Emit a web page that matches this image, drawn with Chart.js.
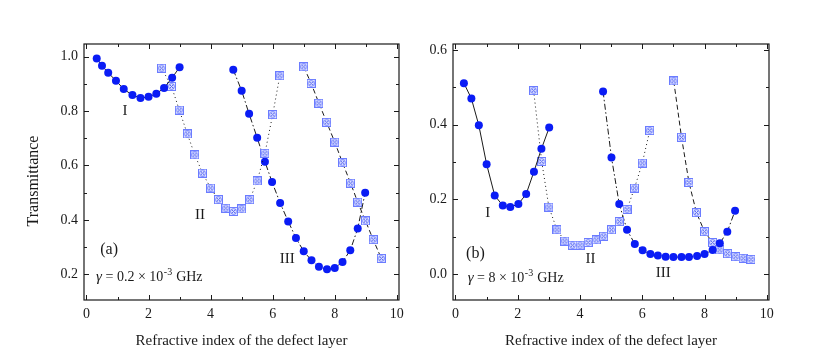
<!DOCTYPE html>
<html>
<head>
<meta charset="utf-8">
<script src="https://cdn.jsdelivr.net/npm/chart.js@4.4.1/dist/chart.umd.min.js"></script>
<style>
  html, body { margin: 0; padding: 0; background: #fff; }
  #wrap { position: relative; width: 817px; height: 361px; }
  .panel { position: absolute; top: 0; height: 361px; }
</style>
</head>
<body>
<div id="wrap">
  <div class="panel" style="left:0;width:410px"><canvas id="chartA"></canvas></div>
  <div class="panel" style="left:410px;width:407px"><canvas id="chartB"></canvas></div>
</div>
<script>
// panel (a), gamma = 0.2e-3 GHz
const a1X = [0.33, 0.5, 0.7, 0.95, 1.2, 1.48, 1.74, 2.0, 2.25, 2.5, 2.76, 3.0];
const a1Y = [0.994, 0.967, 0.941, 0.912, 0.881, 0.859, 0.848, 0.853, 0.864, 0.885, 0.923, 0.961];
const a2X = [2.42, 2.74, 2.99, 3.25, 3.49, 3.74, 4.0, 4.25, 4.49, 4.74, 5.0, 5.26, 5.5, 5.75, 6.0, 6.23];
const a2Y = [0.958, 0.891, 0.804, 0.716, 0.639, 0.572, 0.517, 0.474, 0.443, 0.431, 0.44, 0.474, 0.543, 0.645, 0.787, 0.93];
const a3X = [4.73, 5.0, 5.24, 5.5, 5.75, 5.98, 6.24, 6.5, 6.75, 7.0, 7.25, 7.49, 7.75, 8.0, 8.25, 8.5, 8.74, 8.98];
const a3Y = [0.952, 0.875, 0.79, 0.702, 0.614, 0.539, 0.462, 0.394, 0.333, 0.284, 0.251, 0.227, 0.218, 0.223, 0.245, 0.288, 0.368, 0.5];
const a4X = [7.0, 7.24, 7.49, 7.74, 8.0, 8.25, 8.51, 8.74, 8.99, 9.24, 9.5];
const a4Y = [0.963, 0.902, 0.829, 0.759, 0.686, 0.61, 0.535, 0.465, 0.396, 0.327, 0.258];

// panel (b), gamma = 8e-3 GHz
const b1X = [0.27, 0.51, 0.75, 1.0, 1.26, 1.52, 1.76, 2.02, 2.27, 2.52, 2.76, 3.01];
const b1Y = [0.511, 0.47, 0.398, 0.294, 0.21, 0.183, 0.179, 0.187, 0.214, 0.274, 0.335, 0.392];
const b2X = [2.51, 2.77, 3.0, 3.26, 3.51, 3.76, 4.0, 4.26, 4.52, 4.76, 5.01, 5.26, 5.51, 5.75, 6.0, 6.24];
const b2Y = [0.491, 0.301, 0.179, 0.118, 0.088, 0.077, 0.077, 0.084, 0.091, 0.101, 0.118, 0.14, 0.173, 0.23, 0.297, 0.384];
const b3X = [4.74, 5.01, 5.26, 5.51, 5.76, 6.01, 6.26, 6.5, 6.75, 7.0, 7.26, 7.5, 7.76, 8.0, 8.26, 8.49, 8.73, 8.98];
const b3Y = [0.489, 0.312, 0.187, 0.118, 0.08, 0.063, 0.053, 0.049, 0.046, 0.045, 0.045, 0.045, 0.048, 0.053, 0.064, 0.082, 0.113, 0.169];
const b4X = [7.01, 7.26, 7.5, 7.74, 8.0, 8.26, 8.49, 8.74, 9.0, 9.24, 9.49];
const b4Y = [0.517, 0.366, 0.245, 0.164, 0.113, 0.084, 0.064, 0.054, 0.046, 0.042, 0.039];

// ticks
const xTicks = [0, 2, 4, 6, 8, 10];
const xMinor = [1, 3, 5, 7, 9];
const aYTicks = [0.2, 0.4, 0.6, 0.8, 1.0];
const aYMinor = [0.3, 0.5, 0.7, 0.9];
const bYTicks = [0.0, 0.2, 0.4, 0.6];
const bYMinor = [0.1, 0.3, 0.5];

const serif = '"Liberation Serif", "DejaVu Serif", serif';
const ink = '#1a1a1a';

// open square with a crossed circle inside
function crossSquare() {
  const c = document.createElement('canvas');
  c.width = 9; c.height = 9;
  const g = c.getContext('2d');
  g.fillStyle = '#eef0ff';
  g.fillRect(0.5, 0.5, 8, 8);
  g.strokeStyle = '#6b7cff';
  g.lineWidth = 1;
  g.strokeRect(0.5, 0.5, 8, 8);
  g.beginPath(); g.arc(4.5, 4.5, 2.9, 0, Math.PI * 2); g.stroke();
  g.strokeStyle = '#4a5cf0';
  g.beginPath();
  g.moveTo(2.6, 2.6); g.lineTo(6.4, 6.4);
  g.moveTo(6.4, 2.6); g.lineTo(2.6, 6.4);
  g.stroke();
  return c;
}
const sq = crossSquare();

const toPts = (xs, ys) => xs.map((x, i) => ({ x: x, y: ys[i] }));

function series(xs, ys, filled, dash) {
  return {
    data: toPts(xs, ys),
    showLine: true,
    borderColor: ink,
    borderWidth: 1,
    borderDash: dash,
    pointStyle: filled ? 'circle' : sq,
    pointRadius: filled ? 4 : 4.5,
    backgroundColor: '#0a1cf5',
    pointBorderColor: '#0a1cf5',
    pointBorderWidth: 0
  };
}

// frame, inward ticks, annotations
const framePlugin = {
  id: 'frame',
  afterDraw(chart, args, o) {
    const { ctx, chartArea: ca, scales: { x, y } } = chart;
    ctx.save();
    ctx.strokeStyle = ink;
    ctx.lineWidth = 1.2;
    ctx.strokeRect(ca.left, ca.top, ca.right - ca.left, ca.bottom - ca.top);
    ctx.lineWidth = 1;
    ctx.beginPath();
    const xt = (v, len) => {
      const p = Math.round(x.getPixelForValue(v)) + 0.5;
      ctx.moveTo(p, ca.bottom); ctx.lineTo(p, ca.bottom - len);
      ctx.moveTo(p, ca.top); ctx.lineTo(p, ca.top + len);
    };
    const yt = (v, len) => {
      const p = Math.round(y.getPixelForValue(v)) + 0.5;
      ctx.moveTo(ca.left, p); ctx.lineTo(ca.left + len, p);
      ctx.moveTo(ca.right, p); ctx.lineTo(ca.right - len, p);
    };
    xTicks.forEach(v => xt(v, 5));
    xMinor.forEach(v => xt(v, 3));
    o.yTicks.forEach(v => yt(v, 5));
    o.yMinor.forEach(v => yt(v, 3));
    ctx.stroke();

    ctx.fillStyle = ink;
    ctx.textBaseline = 'middle';
    ctx.textAlign = 'center';
    ctx.font = '15px ' + serif;
    o.notes.forEach(n => {
      ctx.fillText(n.t, x.getPixelForValue(n.x), y.getPixelForValue(n.y));
    });
    ctx.font = '16px ' + serif;
    ctx.fillText(o.tag.t, x.getPixelForValue(o.tag.x), y.getPixelForValue(o.tag.y));

    // gamma label
    let gx = x.getPixelForValue(o.gamma.x);
    const gy = y.getPixelForValue(o.gamma.y);
    ctx.textAlign = 'left';
    ctx.font = 'italic 15px ' + serif;
    ctx.fillText('\u03b3', gx, gy);
    gx += ctx.measureText('\u03b3').width;
    ctx.font = '14px ' + serif;
    const mid = ' = ' + o.gamma.v + ' \u00d7 10';
    ctx.fillText(mid, gx, gy);
    gx += ctx.measureText(mid).width;
    ctx.font = '10px ' + serif;
    ctx.fillText('-3', gx + 0.5, gy - 5);
    gx += ctx.measureText('-3').width + 1;
    ctx.font = '14px ' + serif;
    ctx.fillText(' GHz', gx, gy);

    if (o.yTitle) {
      ctx.translate(34, 181);
      ctx.rotate(-Math.PI / 2);
      ctx.textAlign = 'center';
      ctx.font = '16px ' + serif;
      ctx.fillText(o.yTitle, 0, 0);
    }
    ctx.restore();
  }
};

function makeChart(id, sets, yMin, yMax, yTicks, yMinor, yWidth, padRight, extra) {
  return new Chart(document.getElementById(id), {
    type: 'scatter',
    data: { datasets: sets },
    options: {
      responsive: true,
      maintainAspectRatio: false,
      animation: false,
      layout: { padding: { top: 44, right: padRight, bottom: 0, left: 0 } },
      plugins: {
        legend: { display: false },
        tooltip: { enabled: false },
        frame: Object.assign({ yTicks: yTicks, yMinor: yMinor }, extra)
      },
      scales: {
        x: {
          type: 'linear',
          min: -0.08, max: 10.07,
          afterBuildTicks: s => { s.ticks = xTicks.map(v => ({ value: v })); },
          afterFit: s => { s.height = 61; },
          grid: { display: false, drawTicks: false },
          border: { display: false },
          ticks: { padding: 6, color: ink, font: { family: serif, size: 14 } },
          title: {
            display: true,
            text: 'Refractive index of the defect layer',
            color: ink,
            font: { family: serif, size: 15 },
            padding: { top: 0, bottom: 11 }
          }
        },
        y: {
          type: 'linear',
          min: yMin, max: yMax,
          afterBuildTicks: s => { s.ticks = yTicks.map(v => ({ value: v })); },
          afterFit: s => { s.width = yWidth; },
          grid: { display: false, drawTicks: false },
          border: { display: false },
          ticks: {
            padding: 6, color: ink, font: { family: serif, size: 14 },
            callback: v => v.toFixed(1)
          }
        }
      }
    },
    plugins: [framePlugin]
  });
}

makeChart('chartA', [
  series(a1X, a1Y, true, []),
  series(a2X, a2Y, false, [1, 3]),
  series(a3X, a3Y, true, [6, 2.5, 1.5, 2.5]),
  series(a4X, a4Y, false, [5, 3])
], 0.105, 1.047, aYTicks, aYMinor, 84, 11, {
  notes: [
    { t: 'I', x: 1.24, y: 0.8 },
    { t: 'II', x: 3.66, y: 0.416 },
    { t: 'III', x: 6.47, y: 0.254 }
  ],
  tag: { t: '(a)', x: 0.73, y: 0.288 },
  gamma: { v: '0.2', x: 0.31, y: 0.19 },
  yTitle: 'Transmittance'
});

makeChart('chartB', [
  series(b1X, b1Y, true, []),
  series(b2X, b2Y, false, [1, 3]),
  series(b3X, b3Y, true, [6, 2.5, 1.5, 2.5]),
  series(b4X, b4Y, false, [5, 3])
], -0.07, 0.616, bYTicks, bYMinor, 43, 48, {
  notes: [
    { t: 'I', x: 1.04, y: 0.163 },
    { t: 'II', x: 4.34, y: 0.039 },
    { t: 'III', x: 6.67, y: 0.003 }
  ],
  tag: { t: '(b)', x: 0.64, y: 0.054 },
  gamma: { v: '8', x: 0.39, y: -0.012 },
  yTitle: null
});
</script>
</body>
</html>
